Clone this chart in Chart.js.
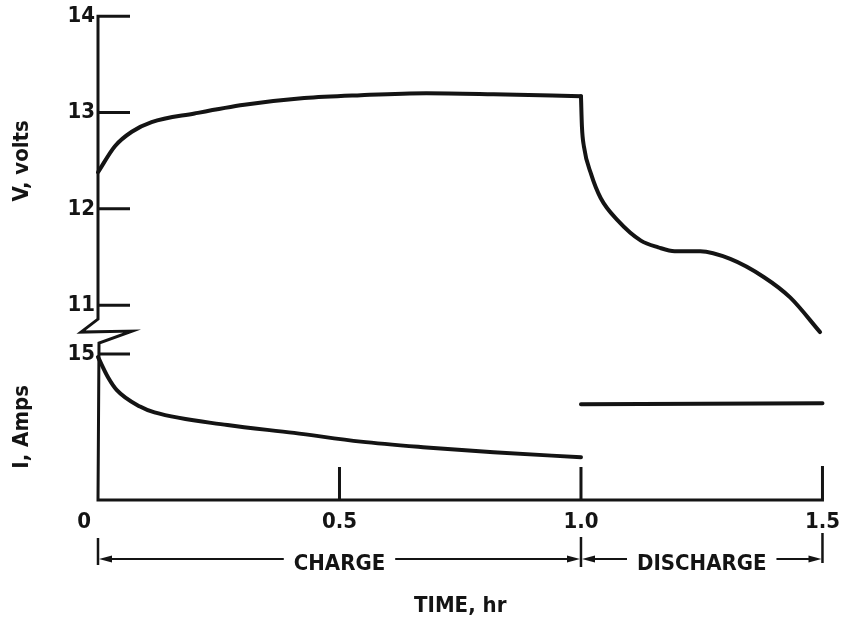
<!DOCTYPE html>
<html>
<head>
<meta charset="utf-8">
<script src="https://cdn.jsdelivr.net/npm/chart.js@4.4.1/dist/chart.umd.min.js"></script>
<style>
html, body { margin: 0; padding: 0; background: #fff; }
#wrap { width: 849px; height: 624px; }
</style>
</head>
<body>
<div id="wrap"><canvas id="chart"></canvas></div>
<script>
// Values
const chargeTime = [0, 0.035, 0.07, 0.111, 0.2, 0.303, 0.427, 0.544, 0.68, 0.819, 1.0];
const chargeVolts = [12.38, 12.65, 12.80, 12.90, 12.99, 13.08, 13.15, 13.18, 13.20, 13.19, 13.17];

const dischargeTime = [1.0, 1.002, 1.006, 1.021, 1.041, 1.076, 1.124, 1.16, 1.194, 1.247, 1.309, 1.379, 1.433, 1.495];
const dischargeVolts = [13.17, 12.85, 12.65, 12.36, 12.11, 11.88, 11.67, 11.60, 11.56, 11.56, 11.48, 11.29, 11.08, 10.72];

const chargeAmpTime = [0, 0.021, 0.039, 0.087, 0.117, 0.268, 0.406, 0.544, 0.68, 0.819, 1.0];
const chargeAmps = [14.7, 12.6, 11.3, 9.6, 9.0, 7.7, 6.9, 6.0, 5.4, 4.9, 4.4];

const dischargeAmpTime = [1.0, 1.5];
const dischargeAmps = [9.85, 9.95];

const voltTicks = [11, 12, 13, 14];
const ampTicks = [15];
const timeTicks = [0, 0.5, 1.0, 1.5];

const INK = '#141414';
const FONT = "'DejaVu Sans Condensed', 'DejaVu Sans', sans-serif";
const NB = '\u00a0';

function points(xs, ys) {
    return xs.map((x, i) => ({x: x, y: ys[i]}));
}

function line(data, axis) {
    return {
        data: data,
        yAxisID: axis,
        borderColor: INK,
        borderWidth: 4,
        pointRadius: 0,
        cubicInterpolationMode: 'monotone',
        borderCapStyle: 'round',
        clip: false,
    };
}

function arrowHead(ctx, x, y, dir) {
    ctx.beginPath();
    ctx.moveTo(x, y);
    ctx.lineTo(x - dir * 13, y - 3.5);
    ctx.lineTo(x - dir * 13, y + 3.5);
    ctx.closePath();
    ctx.fill();
}

// Frame with the axis break, inward ticks and the charge/discharge span marks
const sketchPlugin = {
    id: 'sketch',
    afterDraw(chart) {
        const ctx = chart.ctx;
        const xs = chart.scales.x;
        const yV = chart.scales.yV;
        const yI = chart.scales.yI;
        const ax = xs.getPixelForValue(0);
        const x1 = xs.getPixelForValue(1.0);
        const x2 = xs.getPixelForValue(1.5);
        const top = yV.getPixelForValue(14);
        const bottom = xs.top;
        const b = yV.bottom;

        ctx.save();
        ctx.strokeStyle = INK;
        ctx.fillStyle = INK;
        ctx.lineWidth = 3;
        ctx.lineJoin = 'miter';

        ctx.beginPath();
        ctx.moveTo(ax + 32, top);
        ctx.lineTo(ax, top);
        ctx.lineTo(ax, b - 14);
        ctx.lineTo(ax - 17, b - 1);
        ctx.lineTo(ax + 34, b - 2);
        ctx.lineTo(ax + 1, b + 10);
        ctx.lineTo(ax, bottom);
        ctx.lineTo(x2, bottom);
        ctx.lineTo(x2, bottom - 34);
        ctx.stroke();

        ctx.beginPath();
        voltTicks.slice(0, -1).forEach(v => {
            const y = yV.getPixelForValue(v);
            ctx.moveTo(ax, y);
            ctx.lineTo(ax + 32, y);
        });
        ampTicks.forEach(v => {
            const y = yI.getPixelForValue(v);
            ctx.moveTo(ax, y);
            ctx.lineTo(ax + 32, y);
        });
        timeTicks.slice(1, -1).forEach(t => {
            const x = xs.getPixelForValue(t);
            ctx.moveTo(x, bottom);
            ctx.lineTo(x, bottom - 33);
        });
        ctx.stroke();

        // span row under the tick labels
        const row = 559;
        ctx.lineWidth = 2.5;
        ctx.beginPath();
        ctx.moveTo(ax, 538); ctx.lineTo(ax, 565);
        ctx.moveTo(x1, 537); ctx.lineTo(x1, 567);
        ctx.moveTo(x2, 533); ctx.lineTo(x2, 563);
        ctx.stroke();

        ctx.font = 'bold 22px ' + FONT;
        ctx.textAlign = 'center';
        ctx.textBaseline = 'middle';
        const spans = [[ax, x1, 'CHARGE'], [x1, x2, 'DISCHARGE']];
        ctx.lineWidth = 2;
        spans.forEach(([a, c, label]) => {
            const mid = (a + c) / 2;
            const half = ctx.measureText(label).width / 2;
            ctx.fillText(label, mid, row + 5);
            ctx.beginPath();
            ctx.moveTo(a + 6, row); ctx.lineTo(mid - half - 10, row);
            ctx.moveTo(mid + half + 10, row); ctx.lineTo(c - 6, row);
            ctx.stroke();
            arrowHead(ctx, a + 1, row, -1);
            arrowHead(ctx, c - 1, row, 1);
        });
        ctx.restore();
    }
};

Chart.defaults.font.family = FONT;
Chart.defaults.font.weight = 'bold';
Chart.defaults.font.size = 22;
Chart.defaults.color = INK;

const ctx = document.getElementById('chart');

new Chart(ctx, {
    type: 'line',
    data: {
        datasets: [
            line(points(chargeTime, chargeVolts), 'yV'),
            line(points(dischargeTime, dischargeVolts), 'yV'),
            line(points(chargeAmpTime, chargeAmps), 'yI'),
            line(points(dischargeAmpTime, dischargeAmps), 'yI'),
        ]
    },
    options: {
        responsive: true,
        maintainAspectRatio: false,
        animation: false,
        layout: {padding: {top: 16, right: 23, left: 0, bottom: 0}},
        plugins: {legend: {display: false}, tooltip: {enabled: false}},
        scales: {
            x: {
                type: 'linear',
                min: 0,
                max: 1.5,
                afterBuildTicks: scale => { scale.ticks = timeTicks.map(v => ({value: v})); },
                afterFit: scale => { scale.height = 124; },
                grid: {display: false, drawTicks: false},
                border: {display: false},
                ticks: {
                    padding: 9,
                    maxRotation: 0,
                    callback: v => v === 0 ? '0' + NB.repeat(4) : v.toFixed(1),
                },
                title: {display: true, text: 'TIME, hr', padding: {top: 0, bottom: 5}},
            },
            // lower panel first so that the volts panel is stacked on top
            yI: {
                type: 'linear',
                position: 'left',
                stack: 'panels',
                stackWeight: 167,
                min: 0,
                max: 17.16,
                afterBuildTicks: scale => { scale.ticks = ampTicks.map(v => ({value: v})); },
                afterFit: scale => { scale.width = 98; },
                grid: {display: false, drawTicks: false},
                border: {display: false},
                ticks: {padding: 3},
                title: {display: true, text: 'I, Amps' + NB.repeat(3), padding: {top: 9, bottom: 0}},
            },
            yV: {
                type: 'linear',
                position: 'left',
                stack: 'panels',
                stackWeight: 317,
                min: 10.71,
                max: 14,
                afterBuildTicks: scale => { scale.ticks = voltTicks.map(v => ({value: v})); },
                afterFit: scale => { scale.width = 98; },
                grid: {display: false, drawTicks: false},
                border: {display: false},
                ticks: {padding: 3},
                title: {display: true, text: NB.repeat(4) + 'V, volts', padding: {top: 9, bottom: 0}},
            },
        }
    },
    plugins: [sketchPlugin]
});
</script>
</body>
</html>
